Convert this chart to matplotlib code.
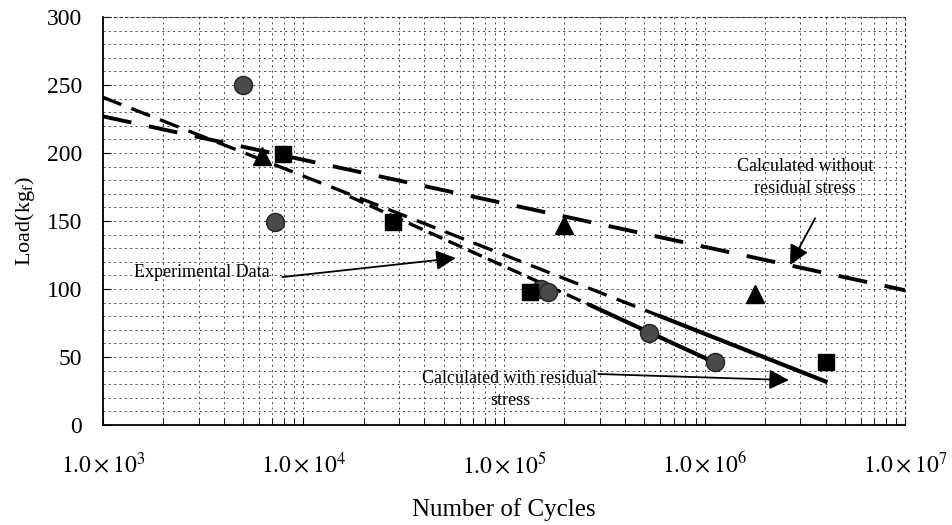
import matplotlib
matplotlib.use('Agg')
import matplotlib.pyplot as plt
from matplotlib.ticker import LogLocator, MultipleLocator, NullFormatter, FixedLocator
import numpy as np

circ_n = [5.0e3, 7.2e3, 1.52e5, 1.65e5, 5.3e5, 1.12e6]
circ_load = [250, 149, 100, 98, 68, 46]
sq_n = [7.9e3, 2.8e4, 1.35e5, 4.0e6]
sq_load = [199, 149, 98, 46]
tri_n = [6.2e3, 2.0e5, 1.78e6]
tri_load = [198, 147, 96]

# calculated curves
no_rs_n = [1e3, 1e7]
no_rs_load = [227, 99]
rs_n_dash = [1e3, 6e5]
rs_load_dash = [241, 80]
rs_n_solid = [6e5, 4e6]
rs_load_solid = [80, 32]
rs2_n_dash = [1.7e4, 2.7e5]
rs2_load_dash = [168, 88]
rs2_n_solid = [2.7e5, 1.12e6]
rs2_load_solid = [88, 46]

xticks = [1e3, 1e4, 1e5, 1e6, 1e7]
xticklabels = [r'$1.0\times10^{3}$', r'$1.0\times10^{4}$', r'$1.0\times10^{5}$',
               r'$1.0\times10^{6}$', r'$1.0\times10^{7}$']
yticks = [0, 50, 100, 150, 200, 250, 300]

plt.rcParams['font.family'] = ['Liberation Serif', 'DejaVu Serif']
plt.rcParams['mathtext.fontset'] = 'stix'

fig = plt.figure(figsize=(9.52, 5.25), dpi=100)
ax = fig.add_axes([0.108, 0.1905, 0.843, 0.777])

ax.set_xscale('log')
ax.set_xlim(1e3, 1e7)
ax.set_ylim(0, 300)

# grid
ax.xaxis.set_minor_locator(LogLocator(base=10, subs=np.arange(2, 10)))
ax.xaxis.set_minor_formatter(NullFormatter())
ax.yaxis.set_minor_locator(MultipleLocator(10))
ax.grid(True, which='both', color='#444444', linestyle=(0, (2, 3.5)), lw=0.7)
ax.set_axisbelow(True)

# lines
ax.plot(no_rs_n, no_rs_load, color='black', lw=2.8, dashes=(7.5, 4.6), zorder=3)
ax.plot(rs_n_dash, rs_load_dash, color='black', lw=2.4, dashes=(6.0, 3.2), zorder=3)
ax.plot(rs_n_solid, rs_load_solid, color='black', lw=3.0, zorder=3)
ax.plot(rs2_n_dash, rs2_load_dash, color='black', lw=2.4, dashes=(4.5, 2.0), zorder=3)
ax.plot(rs2_n_solid, rs2_load_solid, color='black', lw=3.0, zorder=3)

# markers
ax.plot(circ_n, circ_load, 'o', color='#4a4a4a', mec='#222222', ms=13, zorder=5)
ax.plot(sq_n, sq_load, 's', color='black', ms=12, zorder=5)
ax.plot(tri_n, tri_load, '^', color='black', ms=12.5, zorder=5)

# annotations
arrow = dict(arrowstyle='-|>,head_length=0.4,head_width=0.2', color='black',
             lw=1.3, mutation_scale=30, shrinkA=0, shrinkB=0)
ax.text(3.13e3, 112.5, 'Experimental Data', fontsize=13, ha='center', va='center')
ax.annotate('', xy=(5.75e4, 122.8), xytext=(7.85e3, 108.8), arrowprops=arrow)

ax.text(1.07e5, 26, 'Calculated with residual\nstress', fontsize=13, ha='center',
        va='center', linespacing=1.35)
ax.annotate('', xy=(2.63e6, 33), xytext=(2.95e5, 37.5), arrowprops=arrow)

ax.text(3.16e6, 182, 'Calculated without\nresidual stress', fontsize=13, ha='center',
        va='center', linespacing=1.35)
ax.annotate('', xy=(2.66e6, 117.6), xytext=(3.55e6, 152), arrowprops=arrow)

# axes
ax.xaxis.set_major_locator(FixedLocator(xticks))
ax.set_xticklabels(xticklabels)
ax.set_yticks(yticks)
ax.tick_params(axis='both', which='both', direction='in', labelsize=17)
ax.tick_params(axis='x', which='major', length=6, pad=19)
ax.tick_params(axis='x', which='minor', length=5)
ax.tick_params(axis='y', which='major', length=6, pad=15)
ax.tick_params(axis='y', which='minor', length=0)

for s in ['left', 'bottom']:
    ax.spines[s].set_linewidth(1.3)
for s in ['top', 'right']:
    ax.spines[s].set_linestyle((0, (2, 3)))
    ax.spines[s].set_linewidth(0.8)
    ax.spines[s].set_color('#333333')

ax.set_xlabel('Number of Cycles', fontsize=18, labelpad=15)
ax.set_ylabel(r'Load(kg$_\mathrm{f}$)', fontsize=16, labelpad=7)

plt.savefig('out.png', dpi=100)
